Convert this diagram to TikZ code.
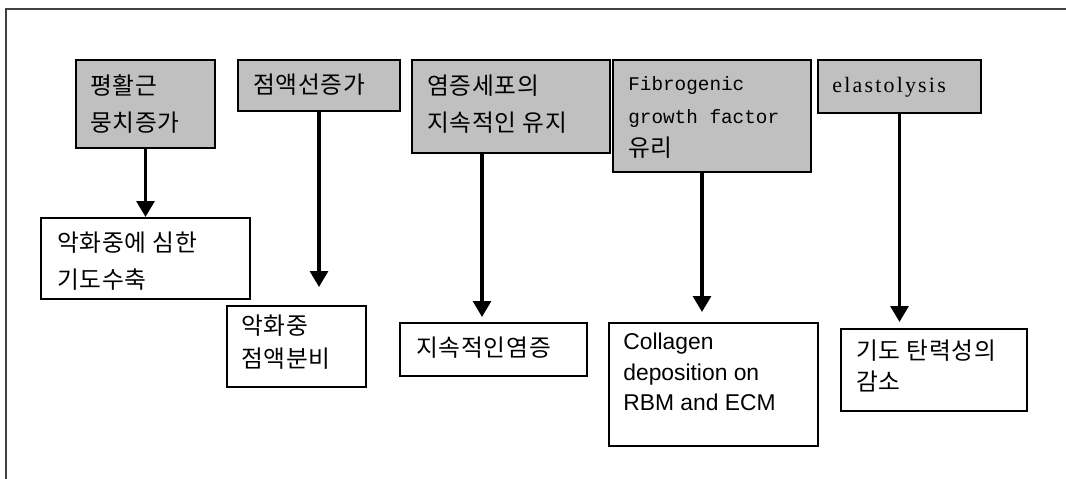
\documentclass[tikz,border=0pt]{standalone}
\usepackage{fontspec}
\setmainfont{Liberation Sans}
\newfontfamily\krfont{Noto Sans CJK KR}[LetterSpace=3]
\newfontfamily\gcmono{Liberation Mono}
\newfontfamily\gcserif{Liberation Serif}[LetterSpace=10]
\usetikzlibrary{arrows.meta,calc,positioning,fit}
\definecolor{boxgray}{HTML}{C0C0C0}
\definecolor{framegray}{HTML}{404040}

\tikzset{
  cause/.style={draw, line width=1.1pt, fill=boxgray, inner sep=0pt},
  effect/.style={draw, line width=1.1pt, fill=white, inner sep=0pt},
  lbl/.style={anchor=base west, inner sep=0pt, align=left},
  kr/.style={font=\krfont\fontsize{13.5}{#1}\selectfont},
  kr/.default=21.6pt,
  link/.style={line width=2pt, -{Triangle[width=10pt,length=9pt]}},
}

\begin{document}
\begin{tikzpicture}[x=0.02cm, y=-0.02cm]
  \useasboundingbox (0,0) rectangle (1066,479);
  \draw[framegray, line width=0.6pt] (1066,9) -- (6,9) -- (6,479);

  % upper row
  \node[cause, fit={(76,60) (215,148)}] (c1) {};
  \node[cause, fit={(238,60) (400,111)}] (c2) {};
  \node[cause, fit={(412,60) (610,153)}] (c3) {};
  \node[cause, fit={(613,60) (811,172)}] (c4) {};
  \node[cause, fit={(818,60) (981,113)}] (c5) {};
  % text nodes sit on the baseline of their last line
  \node[lbl, kr] (c1t) at (90,132) {평활근\\뭉치증가};
  \node[lbl, kr] (c2t) at (253,94) {점액선증가};
  \node[lbl, kr] (c3t) at (427,132) {염증세포의\\지속적인 유지};
  \node[lbl, font=\gcmono\fontsize{11}{18.8}\selectfont] (c4t) at (628,157)
    {Fibrogenic\\growth factor\\{\krfont\fontsize{13.5}{18.8}\selectfont 유리}};
  \node[lbl, font=\gcserif\fontsize{12.5}{15}\selectfont] (c5t) at (832,93) {elastolysis};

  % lower row
  \node[effect, fit={(41,218) (250,299)}] (e1) {};
  \node[effect, fit={(227,306) (366,387)}] (e2) {};
  \node[effect, fit={(400,323) (587,376)}] (e3) {};
  \node[effect, fit={(609,323) (818,446)}] (e4) {};
  \node[effect, fit={(841,329) (1027,411)}] (e5) {};
  \node[lbl, kr] (e1t) at (57,289) {악화중에 심한\\기도수축};
  \node[lbl, kr=19.3pt] (e2t) at (241,368) {악화중\\점액분비};
  \node[lbl, kr] (e3t) at (416,357) {지속적인염증};
  \node[lbl, font=\fontsize{13}{17.4}\selectfont] (e4t) at (623,411)
    {Collagen\\deposition on\\RBM and ECM};
  \node[lbl, kr=18.2pt] (e5t) at (856,391) {기도 탄력성의\\감소};

  % arrows
  \coordinate (a3) at ($(c3.south)+(-29,0)$);
  \coordinate (a4) at ($(c4.south)+(-10,0)$);
  \draw[link] (c1.south) -- (c1.south |- e1.north);
  \draw[link, shorten >=0.36cm] (c2.south) -- (c2.south |- e2.north);
  \draw[link, shorten >=0.1cm] (a3) -- (a3 |- e3.north);
  \draw[link, shorten >=0.2cm] (a4) -- (a4 |- e4.north);
  \draw[link, shorten >=0.12cm] (c5.south) -- (c5.south |- e5.north);
\end{tikzpicture}
\end{document}
